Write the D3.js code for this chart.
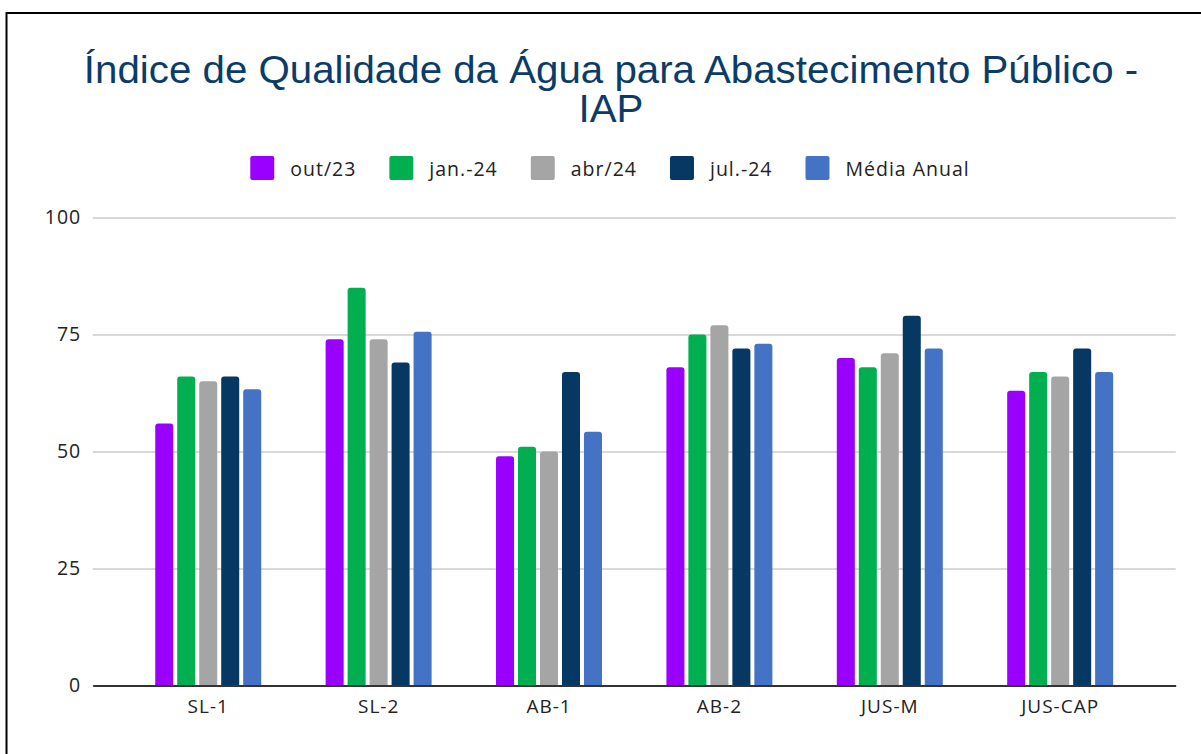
<!DOCTYPE html>
<html>
<head>
<meta charset="utf-8">
<script src="https://cdn.jsdelivr.net/npm/d3@7"></script>
<style>
  body { margin: 0; background: #fff; }
  svg { display: block; }
</style>
</head>
<body>
<div id="chart"></div>
<script>
// data
const categories = ["SL-1", "SL-2", "AB-1", "AB-2", "JUS-M", "JUS-CAP"];
const seriesNames = ["out/23", "jan.-24", "abr/24", "jul.-24", "Média Anual"];
const out23 = [56, 74, 49, 68, 70, 63];
const jan24 = [66, 85, 51, 75, 68, 67];
const abr24 = [65, 74, 50, 77, 71, 66];
const jul24 = [66, 69, 67, 72, 79, 72];
const mediaAnual = [63.3, 75.6, 54.2, 73, 72, 67];
const yTicks = [0, 25, 50, 75, 100];
const colors = ["#9900ff", "#00b050", "#a5a5a5", "#073763", "#4472c4"];

const seriesValues = [out23, jan24, abr24, jul24, mediaAnual];

const W = 1201, H = 754;
const svg = d3.select("#chart")
    .append("svg")
    .attr("width", W)
    .attr("height", H);

// frame (only left and top edges are visible in the picture)
svg.append("path")
    .attr("d", `M6.5,${H} V13 H${W}`)
    .attr("fill", "none")
    .attr("stroke", "#000")
    .attr("stroke-width", 2);

// title (the picture is a bit wider than the font, so stretch it)
const title = svg.append("text")
    .attr("text-anchor", "middle")
    .attr("transform", "translate(611,0) scale(1.06,1)")
    .attr("font-family", "'Liberation Sans', Arial, sans-serif")
    .attr("font-size", 38)
    .attr("fill", "#0b3c68");
title.append("tspan").attr("x", 0).attr("y", 83)
    .text("Índice de Qualidade da Água para Abastecimento Público -");
title.append("tspan").attr("x", 0).attr("y", 122).text("IAP");

// scales
const x = d3.scaleBand()
    .domain(categories)
    .range([92.7, 1175.7])
    .paddingInner(0.378)
    .paddingOuter(0.367);

const xSub = d3.scaleBand()
    .domain(seriesNames)
    .range([0, x.bandwidth()])
    .paddingInner(0.18);

const y = d3.scaleLinear()
    .domain([0, 100])
    .range([685.5, 217.5]);

const font = "'Open Sans', 'Noto Sans', sans-serif";

// gridlines + y labels
const yAxis = d3.axisLeft(y)
    .tickValues(yTicks)
    .tickSize(-(1175.7 - 92.7))
    .tickPadding(11.5);

const gy = svg.append("g")
    .attr("transform", "translate(92.7,0)")
    .call(yAxis);
gy.select(".domain").remove();
gy.selectAll(".tick line")
    .attr("stroke", "#cccccc")
    .attr("stroke-width", 1.5);
gy.selectAll(".tick text")
    .attr("font-family", font)
    .attr("font-size", 19.5)
    .attr("letter-spacing", 1)
    .attr("fill", "#222");

// bars with rounded tops
function topRounded(x0, y0, w, h, r) {
    r = Math.min(r, h, w / 2);
    return `M${x0},${y0 + h} V${y0 + r} Q${x0},${y0} ${x0 + r},${y0} ` +
        `H${x0 + w - r} Q${x0 + w},${y0} ${x0 + w},${y0 + r} V${y0 + h} Z`;
}

const groups = svg.append("g")
    .selectAll("g")
    .data(categories)
    .join("g")
    .attr("transform", d => `translate(${x(d)},0)`);

groups.selectAll("path")
    .data((d, i) => seriesNames.map((s, j) => ({ s, j, v: seriesValues[j][i] })))
    .join("path")
    .attr("d", d => topRounded(xSub(d.s), y(d.v), xSub.bandwidth(), y(0) - y(d.v), 3))
    .attr("fill", d => colors[d.j]);

// x axis
const xAxis = d3.axisBottom(x).tickSize(0).tickPadding(14);
const gx = svg.append("g")
    .attr("transform", `translate(0,${y(0)})`)
    .call(xAxis);
gx.select(".domain")
    .attr("stroke", "#333")
    .attr("stroke-width", 2);
gx.selectAll(".tick text")
    .attr("font-family", font)
    .attr("font-size", 19)
    .attr("letter-spacing", 1)
    .attr("fill", "#222");

// legend
const legend = svg.append("g");
const items = legend.selectAll("g")
    .data(seriesNames)
    .join("g");
items.append("rect")
    .attr("width", 24)
    .attr("height", 24)
    .attr("rx", 2)
    .attr("y", 156)
    .attr("fill", (d, i) => colors[i]);
items.append("text")
    .attr("x", 40)
    .attr("y", 175.5)
    .attr("font-family", font)
    .attr("font-size", 19.5)
    .attr("letter-spacing", 1)
    .attr("fill", "#222")
    .text(d => d);

let widths = [];
items.each(function () {
    widths.push(40 + d3.select(this).select("text").node().getComputedTextLength());
});
const gap = 33;
const total = d3.sum(widths) + gap * (widths.length - 1);
let cx = 610 - total / 2;
items.attr("transform", (d, i) => {
    const t = `translate(${cx},0)`;
    cx += widths[i] + gap;
    return t;
});
</script>
</body>
</html>
